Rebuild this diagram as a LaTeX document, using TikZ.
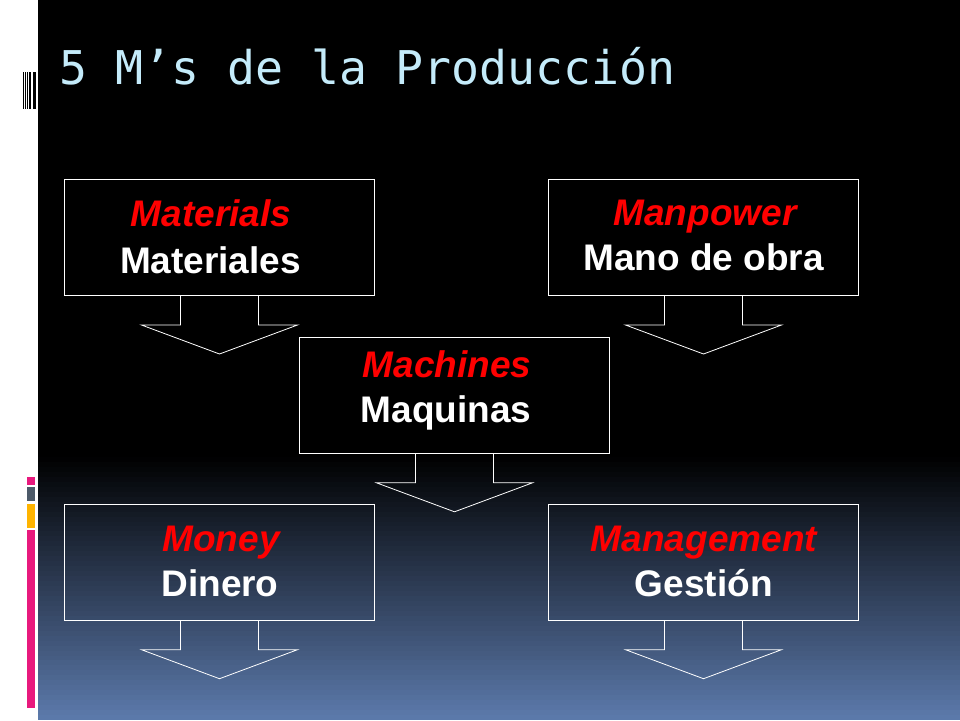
\documentclass[tikz,border=0pt]{standalone}
\usepackage{fontspec}
\setmainfont{Liberation Sans}
\newfontfamily\titlefont{DejaVu Sans Mono}
\usetikzlibrary{calc}
\definecolor{titleblue}{HTML}{C4EBFA}
\definecolor{bottomblue}{HTML}{5C7AAC}
\definecolor{barpink}{HTML}{E8197D}
\definecolor{bargray}{HTML}{4D5A69}
\definecolor{baryellow}{HTML}{FFB400}
\newcommand\blockarrowdown[1]{%
  \draw[blockarrow] ($(#1.south)+(-39,0)$) -- ++(0,29) -- ++(-39,0)
    -- ($(#1.south)+(0,58)$) -- ($(#1.south)+(78,29)$) -- ++(-39,0)
    -- ($(#1.south)+(39,0)$);}
\begin{document}
\begin{tikzpicture}[x=1pt,y=-1pt,
  mbox/.style={draw=white, line width=1pt, minimum width=310pt, minimum height=116pt, inner sep=0pt},
  entxt/.style={text=red, font=\fontsize{37}{40}\selectfont\bfseries\itshape, anchor=base, inner sep=0pt},
  estxt/.style={text=white, font=\fontsize{37}{40}\selectfont\bfseries, anchor=base, inner sep=0pt},
  blockarrow/.style={draw=white, line width=0.8pt, line join=miter}]
% background
\path[use as bounding box] (0,0) rectangle (960,720);
\fill[white] (0,0) rectangle (37.5,720);
\fill[black] (37.5,0) rectangle (960,720);
\foreach \i in {0,...,52}{%
  \pgfmathsetmacro\f{(\i+0.5)/53*100}%
  \fill[bottomblue!\f!black] (37.5,{457+\i*263/53}) rectangle (960,{457+(\i+1)*263/53+0.4});
}
% barcode
\fill[black] (22.7,72) rectangle (23.7,109);
\fill[black] (25,72) rectangle (26,109);
\fill[black] (27.3,72) rectangle (28.4,109);
\fill[black] (29.2,72) rectangle (31.4,109);
\fill[black] (32.8,72) rectangle (36,109);
% colour bars
\fill[barpink] (27,476.7) rectangle (34.7,485);
\fill[bargray] (27,487) rectangle (34.7,500.7);
\fill[baryellow] (27,503.7) rectangle (34.7,528.3);
\fill[barpink] (27,530) rectangle (34.7,707.7);
% title
\node[text=titleblue, font=\titlefont\fontsize{46.5}{50}\selectfont, anchor=base west, inner sep=0pt] (title) at (59,84) {5 M’s de la Producción};
% boxes
\node[mbox] (mat) at (219.5,237.5) {};
\node[mbox] (man) at (703.5,237.5) {};
\node[mbox] (mac) at (454.5,395.3) {};
\node[mbox] (mon) at (219.5,562.2) {};
\node[mbox] (mgt) at (703.5,562.2) {};
% texts
\node[entxt] (matEN) at (211,226.7) {Materials};
\node[estxt] (matES) at (210.5,273.3) {Materiales};
\node[entxt] (manEN) at (705,225) {Manpower};
\node[estxt] (manES) at (703.7,270.7) {Mano de obra};
\node[entxt] (macEN) at (447,377.7) {Machines};
\node[estxt] (macES) at (446,422.7) {Maquinas};
\node[entxt] (monEN) at (221,551.7) {Money};
\node[estxt] (monES) at (220,596.7) {Dinero};
\node[entxt] (mgtEN) at (704,551.7) {Management};
\node[estxt] (mgtES) at (703.8,596.7) {Gestión};
% block arrows
\blockarrowdown{mat}
\blockarrowdown{man}
\blockarrowdown{mac}
\blockarrowdown{mon}
\blockarrowdown{mgt}
\end{tikzpicture}
\end{document}
